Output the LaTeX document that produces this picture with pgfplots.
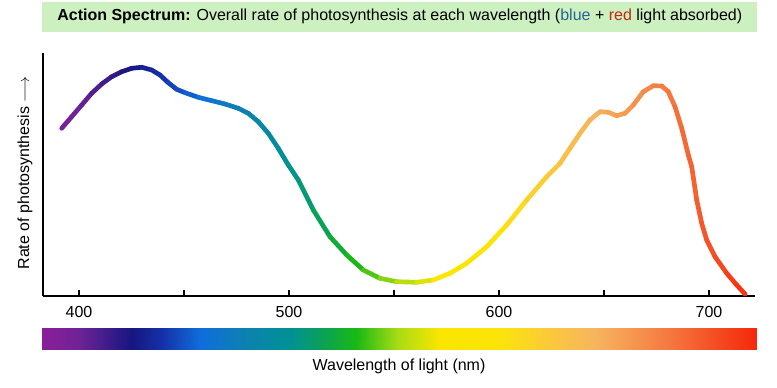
\documentclass[border=0pt]{standalone}
\usepackage{pgfplots}
\pgfplotsset{compat=1.18}
\usepackage{fontspec}
\setmainfont{Liberation Sans}
\definecolor{titlegreen}{RGB}{205,240,192}
\definecolor{bluew}{RGB}{40,100,150}
\definecolor{redw}{RGB}{190,40,20}
\pgfplotsset{colormap={spec}{
 rgb255(382pt)=(140,30,155)
 rgb255(400pt)=(110,35,150)
 rgb255(425pt)=(22,22,128)
 rgb255(440pt)=(20,50,170)
 rgb255(458pt)=(15,110,220)
 rgb255(480pt)=(12,130,175)
 rgb255(500pt)=(0,145,150)
 rgb255(515pt)=(10,160,90)
 rgb255(532pt)=(25,185,20)
 rgb255(552pt)=(170,220,20)
 rgb255(572pt)=(250,230,0)
 rgb255(600pt)=(252,228,10)
 rgb255(625pt)=(250,200,60)
 rgb255(646pt)=(246,180,95)
 rgb255(680pt)=(245,122,65)
 rgb255(722pt)=(245,40,10)
}}
\pgfplotstableread{
x y
391.76 167.7
396.52 179.3
401.29 191
406.05 202.7
410.81 212
415.57 219.3
420.33 224.3
425.10 227.7
429.86 228.7
434.62 226
438.57 221
442.52 213.3
446.52 206.7
450.48 203.3
456.81 198.7
463.19 195.3
469.52 192
475.86 187.7
480.62 182.7
485.38 174.3
490.14 162.7
494.90 147.7
499.67 131
504.43 116
511.57 86
519.52 59.3
527.48 41
535.38 26
543.33 17.7
551.29 14.3
560.81 13.7
568.71 16
576.67 22.7
584.62 32.7
594.14 49.3
603.67 71
613.19 96
622.71 119.3
629.05 132.7
633.81 147.7
638.57 162.7
643.33 176
648.10 184.3
652.05 183.7
656.05 180.3
660.00 182.7
663.95 191
668.71 204.3
673.48 210.3
677.48 210
680.62 204.3
683.81 189.3
687.00 167.7
690.14 141
691.76 129.3
694.14 96
696.52 72.7
698.90 56
702.86 39.3
708.43 22.7
713.19 11
717.14 2
}\curve
\begin{document}
\begin{tikzpicture}
\begin{axis}[name=main,
  scale only axis, width=534pt, height=182.25pt,
  xmin=382.86, xmax=721.9, ymin=0, ymax=243,
  axis x line*=bottom, axis y line*=left,
  axis line style={line width=2pt},
  xtick={400,450,500,550,600,650,700},
  xticklabels={400,,500,,600,,700},
  ytick=\empty,
  tick align=inside, major tick length=4.5pt,
  every tick/.style={black, line width=0.9pt},
  xticklabel style={font=\fontsize{12}{14}\selectfont, yshift=-4.5pt},
  /pgf/number format/assume math mode=true,
  ylabel={Rate of photosynthesis $\longrightarrow$},
  ylabel style={font=\fontsize{12}{14}\selectfont, at={(axis description cs:-0.0253,0.506)}, anchor=center},
  colormap name=spec, point meta min=382, point meta max=722,
  clip=false]
\addplot[mesh, point meta=x, line width=3.5pt, line cap=round, line join=round] table[x=x,y=y] {\curve};
\end{axis}
\begin{axis}[name=bar, at={(main.south west)}, anchor=north west, yshift=-24pt,
  scale only axis, width=534pt, height=16.5pt,
  xmin=382.86, xmax=721.9, ymin=0, ymax=1,
  hide axis, view={0}{90}, clip=false,
  colormap name=spec, point meta min=382, point meta max=722]
\addplot3[surf, shader=interp, point meta=x] table {
x y z
382.4 0 0
390 0 0
400 0 0
410 0 0
420 0 0
430 0 0
440 0 0
450 0 0
460 0 0
470 0 0
480 0 0
490 0 0
500 0 0
510 0 0
520 0 0
530 0 0
540 0 0
550 0 0
560 0 0
570 0 0
580 0 0
590 0 0
600 0 0
610 0 0
620 0 0
630 0 0
640 0 0
650 0 0
660 0 0
670 0 0
680 0 0
690 0 0
700 0 0
710 0 0
722.4 0 0

382.4 1 0
390 1 0
400 1 0
410 1 0
420 1 0
430 1 0
440 1 0
450 1 0
460 1 0
470 1 0
480 1 0
490 1 0
500 1 0
510 1 0
520 1 0
530 1 0
540 1 0
550 1 0
560 1 0
570 1 0
580 1 0
590 1 0
600 1 0
610 1 0
620 1 0
630 1 0
640 1 0
650 1 0
660 1 0
670 1 0
680 1 0
690 1 0
700 1 0
710 1 0
722.4 1 0
};
\end{axis}
\node[font=\fontsize{12}{14}\selectfont, anchor=center] at ([yshift=-12pt]bar.south) {Wavelength of light (nm)};
\node[fill=titlegreen, anchor=south west, minimum width=536.25pt, minimum height=22.5pt, inner sep=0pt, font=\fontsize{12}{14}\selectfont]
  at ([xshift=-0.75pt, yshift=15.75pt]main.north west)
  {\textbf{Action Spectrum:} Overall rate of photosynthesis at each wavelength (\textcolor{bluew}{blue} + \textcolor{redw}{red} light absorbed)};
\path ([shift={(-32.25pt,-69pt)}]main.south west) rectangle ([shift={(550.5pt,222pt)}]main.south west);
\end{tikzpicture}
\end{document}
